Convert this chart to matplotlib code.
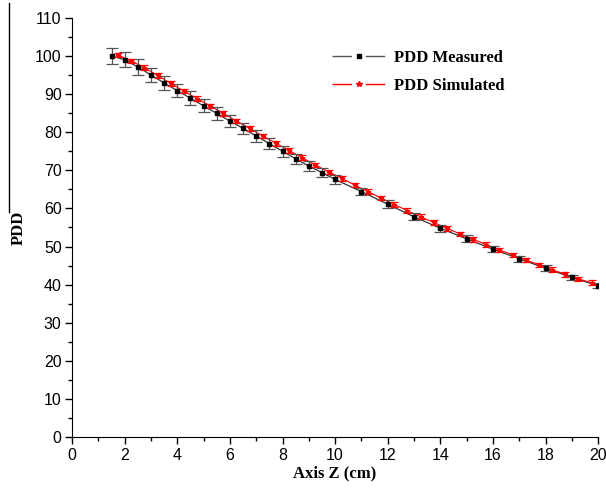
import numpy as np
import matplotlib.pyplot as plt
from matplotlib.lines import Line2D
from matplotlib.ticker import MultipleLocator

# measured PDD (black squares)
z_meas = [1.5, 2, 2.5, 3, 3.5, 4, 4.5, 5, 5.5, 6, 6.5, 7, 7.5, 8, 8.5, 9, 9.5, 10,
          11, 12, 13, 14, 15, 16, 17, 18, 19, 20]
pdd_meas = [100, 99.0, 97.1, 95.0, 92.9, 90.9, 88.9, 86.9, 84.9, 82.9, 81.0, 79.0,
            77.0, 75.0, 73.0, 71.1, 69.4, 67.6, 64.4, 61.1, 57.8, 54.8, 52.0, 49.3,
            46.8, 44.3, 41.9, 39.7]
err_meas = [2.1, 2.0, 2.0, 1.9, 1.9, 1.8, 1.8, 1.7, 1.7, 1.6, 1.5, 1.5, 1.4, 1.4,
            1.3, 1.3, 1.2, 1.2, 1.0, 1.0, 0.9, 0.9, 0.9, 0.8, 0.8, 0.8, 0.7, 0.7]

# simulated PDD (red stars)
z_sim = [1.75, 2.25, 2.75, 3.25, 3.75, 4.25, 4.75, 5.25, 5.75, 6.25, 6.75, 7.25,
         7.75, 8.25, 8.75, 9.25, 9.75, 10.25, 10.75, 11.25, 11.75, 12.25, 12.75,
         13.25, 13.75, 14.25, 14.75, 15.25, 15.75, 16.25, 16.75, 17.25, 17.75,
         18.25, 18.75, 19.25, 19.75]
pdd_sim = [100.2, 98.7, 96.9, 94.9, 92.8, 90.8, 88.8, 86.9, 84.9, 82.9, 81.0, 79.0,
           77.1, 75.2, 73.3, 71.4, 69.6, 67.9, 66.1, 64.4, 62.7, 61.0, 59.4, 57.8,
           56.3, 54.8, 53.3, 51.9, 50.5, 49.1, 47.8, 46.5, 45.2, 43.9, 42.7, 41.5,
           40.5]
err_sim = [0.6] * len(z_sim)

serif = ['Liberation Serif', 'DejaVu Serif']
sans = ['Liberation Sans', 'DejaVu Sans']

fig = plt.figure(figsize=(6.06, 4.95), dpi=100)
ax = fig.add_axes([0.119, 0.117, 0.868, 0.847])

ax.errorbar(z_meas, pdd_meas, yerr=err_meas, fmt='s', color='black', ms=3.5,
            ecolor='#555555', elinewidth=0.9, capsize=4, capthick=0.9, zorder=3)
ax.plot(z_meas, pdd_meas, color='#333333', lw=0.9, zorder=2)

ax.errorbar(z_sim, pdd_sim, yerr=err_sim, fmt='*', color='red', ms=3.5,
            ecolor='red', elinewidth=0.9, capsize=3, capthick=0.9, zorder=4)
ax.plot(z_sim, pdd_sim, color='red', lw=0.8, zorder=2)

ax.set_xlim(0, 20)
ax.set_ylim(0, 110)
ax.xaxis.set_major_locator(MultipleLocator(2))
ax.xaxis.set_minor_locator(MultipleLocator(1))
ax.yaxis.set_major_locator(MultipleLocator(10))
ax.yaxis.set_minor_locator(MultipleLocator(5))
ax.spines['top'].set_visible(False)
ax.spines['right'].set_visible(False)
ax.tick_params(which='major', direction='out', length=5, width=1, pad=2.5)
ax.tick_params(which='minor', direction='out', length=3, width=1)
for lab in ax.get_xticklabels() + ax.get_yticklabels():
    lab.set_family(sans)
    lab.set_fontsize(11.5)

ax.set_xlabel('Axis Z (cm)', family=serif, fontweight='bold', fontsize=12, labelpad=2)
ax.set_ylabel('PDD', family=serif, fontweight='bold', fontsize=12, labelpad=6)

# legend handles: line with a gap around the marker
h_meas = Line2D([], [], color='#555555', lw=1, ls=(0, (14, 10)),
                marker='s', ms=3, mfc='black', mec='black')
h_sim = Line2D([], [], color='red', lw=1, ls=(0, (14, 10)),
               marker='*', ms=4, mfc='red', mec='red')
ax.legend([h_meas, h_sim], ['PDD Measured', 'PDD Simulated'],
          loc='upper right', bbox_to_anchor=(0.85, 0.96), frameon=False,
          handlelength=3.2, handletextpad=0.5, numpoints=1, labelspacing=0.75,
          prop={'family': serif, 'weight': 'bold', 'size': 12})

# stray page border line on the left
fig.add_artist(Line2D([9 / 606, 9 / 606], [1 - 3 / 495, 1 - 212 / 495],
                      color='black', lw=1))

fig.savefig('out.png', dpi=100)
